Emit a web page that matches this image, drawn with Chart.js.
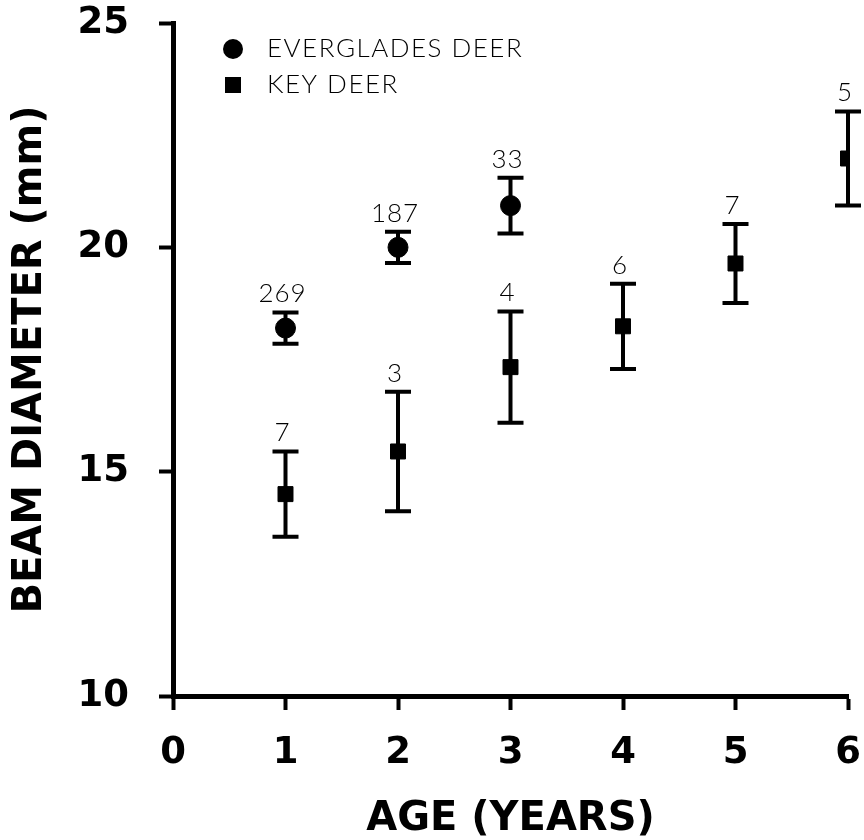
<!DOCTYPE html>
<html>
<head>
<meta charset="utf-8">
<script src="https://cdn.jsdelivr.net/npm/chart.js@4/dist/chart.umd.min.js"></script>
<style>
  html, body { margin: 0; padding: 0; background: #fff; }
  #wrap { width: 864px; height: 840px; }
</style>
</head>
<body>
<div id="wrap"><canvas id="chart" width="864" height="840"></canvas></div>
<script>
// Everglades deer
const evAges = [1, 2, 3];
const evMeans = [18.2, 20.0, 20.93];
const evSd = [0.35, 0.35, 0.62];
const evN = [269, 187, 33];

// Key deer
const keyAges = [1, 2, 3, 4, 5, 6];
const keyMeans = [14.5, 15.45, 17.33, 18.24, 19.64, 21.98];
const keySd = [0.95, 1.33, 1.24, 0.95, 0.88, 1.05];
const keyN = [7, 3, 4, 6, 7, 5];

// axes
const xTicks = [0, 1, 2, 3, 4, 5, 6];
const yTicks = [10, 15, 20, 25];

const thinFont = '300 26px Lato, "DejaVu Sans", sans-serif';

// draws the error bars under the markers, and the sample sizes above them
const errorBars = {
    id: 'errorBars',
    beforeDatasetsDraw(chart) {
        const ctx = chart.ctx;
        const x = chart.scales.x;
        const y = chart.scales.y;
        ctx.save();
        ctx.strokeStyle = '#000';
        ctx.lineWidth = 4;
        ctx.lineCap = 'butt';
        chart.data.datasets.forEach((ds) => {
            ds.data.forEach((p, i) => {
                const px = x.getPixelForValue(p.x);
                const top = y.getPixelForValue(p.y + ds.sd[i]);
                const bot = y.getPixelForValue(p.y - ds.sd[i]);
                ctx.beginPath();
                ctx.moveTo(px, top);
                ctx.lineTo(px, bot);
                ctx.moveTo(px - 13, top);
                ctx.lineTo(px + 13, top);
                ctx.moveTo(px - 13, bot);
                ctx.lineTo(px + 13, bot);
                ctx.stroke();
            });
        });
        ctx.restore();
    },
    afterDatasetsDraw(chart) {
        const ctx = chart.ctx;
        const x = chart.scales.x;
        const y = chart.scales.y;
        ctx.save();
        ctx.fillStyle = '#000';
        ctx.font = thinFont;
        ctx.letterSpacing = '1px';
        ctx.textAlign = 'center';
        ctx.textBaseline = 'alphabetic';
        chart.data.datasets.forEach((ds) => {
            ds.data.forEach((p, i) => {
                const px = x.getPixelForValue(p.x);
                const top = y.getPixelForValue(p.y + ds.sd[i]);
                ctx.fillText(String(ds.n[i]), px - 3, top - 10);
            });
        });

        // legend in the upper left of the plot
        const a = chart.chartArea;
        const lx = a.left + 60;
        ctx.beginPath();
        ctx.arc(lx, a.top + 26, 10, 0, Math.PI * 2);
        ctx.fill();
        ctx.fillRect(lx - 8, a.top + 62 - 8, 16, 16);
        ctx.textAlign = 'left';
        ctx.letterSpacing = '1.5px';
        ctx.fillText('EVERGLADES DEER', lx + 34, a.top + 34);
        ctx.fillText('KEY DEER', lx + 34, a.top + 70);
        ctx.restore();
    }
};

function createChart() {
    const contexto = document.getElementById('chart');
    const tickFont = { family: '"DejaVu Sans", sans-serif', size: 37, weight: 'bold' };
    const titleFont = { family: '"DejaVu Sans", sans-serif', size: 40, weight: 'bold', lineHeight: 1 };
    const charts = new Chart(contexto, {
        type: 'scatter',
        data: {
            datasets: [
                {
                    label: 'EVERGLADES DEER',
                    data: evAges.map((a, i) => ({ x: a, y: evMeans[i] })),
                    sd: evSd,
                    n: evN,
                    pointStyle: 'circle',
                    pointRadius: 10,
                    backgroundColor: '#000',
                    borderColor: '#000',
                    borderWidth: 1,
                },
                {
                    label: 'KEY DEER',
                    data: keyAges.map((a, i) => ({ x: a, y: keyMeans[i] })),
                    sd: keySd,
                    n: keyN,
                    pointStyle: 'rect',
                    pointRadius: 10.6,
                    backgroundColor: '#000',
                    borderColor: '#000',
                    borderWidth: 1,
                },
            ],
        },
        options: {
            responsive: false,
            animation: false,
            events: [],
            layout: { padding: { top: 23, right: 16, left: 0, bottom: 0 } },
            plugins: {
                legend: { display: false },
                tooltip: { enabled: false },
            },
            scales: {
                x: {
                    type: 'linear',
                    min: 0,
                    max: 6,
                    afterBuildTicks: (s) => { s.ticks = xTicks.map((v) => ({ value: v })); },
                    afterFit: (s) => { s.height = 144; s.paddingLeft = 0; s.paddingRight = 0; },
                    border: { display: true, color: '#000', width: 5 },
                    grid: { drawOnChartArea: false, drawTicks: true, tickLength: 14, tickWidth: 4, tickColor: '#000' },
                    ticks: { color: '#000', padding: 21, font: tickFont },
                    title: {
                        display: true,
                        text: 'AGE (YEARS)',
                        color: '#000',
                        font: titleFont,
                        padding: { top: 0, bottom: 0 },
                    },
                },
                y: {
                    type: 'linear',
                    min: 10,
                    max: 25,
                    afterBuildTicks: (s) => { s.ticks = yTicks.map((v) => ({ value: v })); },
                    afterFit: (s) => { s.width = 173; s.paddingTop = 0; s.paddingBottom = 0; },
                    border: { display: true, color: '#000', width: 5 },
                    grid: { drawOnChartArea: false, drawTicks: true, tickLength: 14, tickWidth: 4, tickColor: '#000' },
                    ticks: { color: '#000', padding: 30, font: tickFont },
                    title: {
                        display: true,
                        text: 'BEAM DIAMETER (mm)',
                        color: '#000',
                        font: titleFont,
                        padding: { top: 11, bottom: 0 },
                    },
                },
            },
        },
        plugins: [errorBars],
    });
    return charts;
}

createChart();
</script>
</body>
</html>
